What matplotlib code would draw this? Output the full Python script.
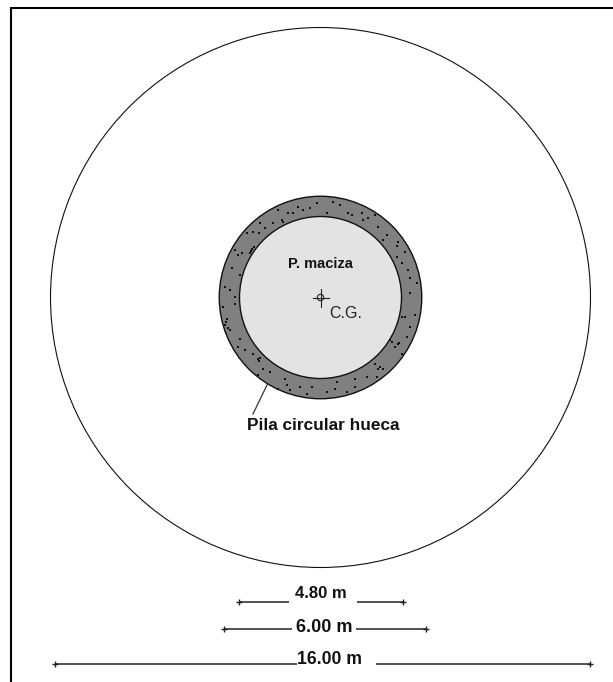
import matplotlib
matplotlib.use('Agg')
import matplotlib.pyplot as plt
from matplotlib.patches import Circle

# diameters in metres
d_base = 16.00
d_pila = 6.00
d_hueco = 4.80

dim_labels = ['4.80 m', '6.00 m', '16.00 m']

# speckles in the concrete ring (pixels)
speck_x = [253, 260, 259, 252, 250, 242, 238, 235, 282, 288, 278, 303, 310, 298, 230, 235, 225, 240, 232, 247,
           273, 265, 317, 293, 327, 333, 348, 352, 362, 375, 378, 363, 387, 398, 397, 408, 410, 410, 402, 383,
           368, 340, 417, 405, 225, 230, 227, 223, 235, 240, 245, 238, 258, 253, 263, 258, 278, 287, 285, 300,
           312, 307, 270, 290, 390, 398, 395, 405, 410, 378, 383, 375, 402, 367, 355, 337, 335, 327, 355, 347,
           377, 402, 415, 407, 251, 254, 260, 283, 397, 399, 392, 380, 259, 228, 226]
speck_y = [232, 223, 233, 249, 253, 253, 255, 250, 220, 213, 210, 210, 208, 207, 290, 297, 287, 275, 268, 233,
           223, 228, 203, 213, 213, 202, 213, 215, 213, 215, 227, 220, 235, 242, 257, 270, 278, 293, 263, 240,
           218, 205, 283, 252, 325, 330, 319, 307, 304, 339, 350, 347, 359, 354, 369, 375, 389, 385, 379, 387,
           387, 394, 372, 390, 340, 344, 347, 317, 327, 369, 369, 364, 354, 377, 379, 382, 389, 392, 387, 392,
           377, 317, 315, 337, 251, 247, 358, 222, 246, 343, 342, 367, 361, 328, 322]

cx, cy = 320.5, 297.5
px_per_m = 33.75  # 16 m = 540 px

plt.rcParams['font.family'] = ['Liberation Sans', 'DejaVu Sans']

fig = plt.figure(figsize=(6.13, 6.82), dpi=100)
ax = fig.add_axes([0, 0, 1, 1])
ax.set_xlim(0, 613)
ax.set_ylim(682, 0)
ax.axis('off')

# page border, only top and left
ax.plot([11, 613], [7.8, 7.8], color='black', lw=1.5, solid_capstyle='butt')
ax.plot([11, 11], [7, 682], color='black', lw=1.5, solid_capstyle='butt')

# circles
ax.add_patch(Circle((cx, cy), d_base / 2 * px_per_m, fc='white', ec='#111111', lw=0.8))
ax.add_patch(Circle((cx, cy), d_pila / 2 * px_per_m, fc='#808080', ec='#111111', lw=1.0))
ax.add_patch(Circle((cx, cy), d_hueco / 2 * px_per_m, fc='#E3E3E3', ec='#111111', lw=1.0))
ax.scatter(speck_x, speck_y, s=3.5, marker='s', color='#111111', linewidths=0)

# centre of gravity mark
ax.add_patch(Circle((cx, cy), 3.2, fc='none', ec='#222222', lw=0.8))
ax.plot([cx - 8, cx + 8], [cy, cy], color='#222222', lw=0.8)
ax.plot([cx, cx], [cy - 9, cy + 9], color='#222222', lw=0.8)

ax.text(320, 264, 'P. maciza', fontsize=10.5, fontweight='bold', ha='center', va='center', color='#111111')
ax.text(346, 314, 'C.G.', fontsize=11.5, ha='center', va='center', color='#222222')

# leader to the pier
ax.plot([267, 253], [385, 414], color='#333333', lw=0.9)
ax.text(323, 426, 'Pila circular hueca', fontsize=12.4, fontweight='bold', ha='center', va='center', color='#111111')

# dimension lines
dim_x0 = [238.5, 224, 55]
dim_x1 = [403, 426, 590]
dim_y = [602, 629, 664]
gap_a = [289, 292, 297]
gap_b = [357, 356, 376]
lab_x = [321, 324, 329.5]
lab_y = [594, 627, 660]
lab_size = [12, 13, 12.7]
for lab, x0, x1, y, a, b, tx, ty, fs in zip(dim_labels, dim_x0, dim_x1, dim_y, gap_a, gap_b, lab_x, lab_y, lab_size):
    ax.plot([x0, a], [y, y], color='#333333', lw=1.2, solid_capstyle='butt')
    ax.plot([b, x1], [y, y], color='#333333', lw=1.2, solid_capstyle='butt')
    ax.plot([x0, x1], [y, y], ls='none', marker='+', ms=5, mew=1.0, color='#222222')
    ax.text(tx, ty, lab, fontsize=fs, fontweight='bold', ha='center', va='center', color='#111111')

fig.savefig('out.png', dpi=100)
